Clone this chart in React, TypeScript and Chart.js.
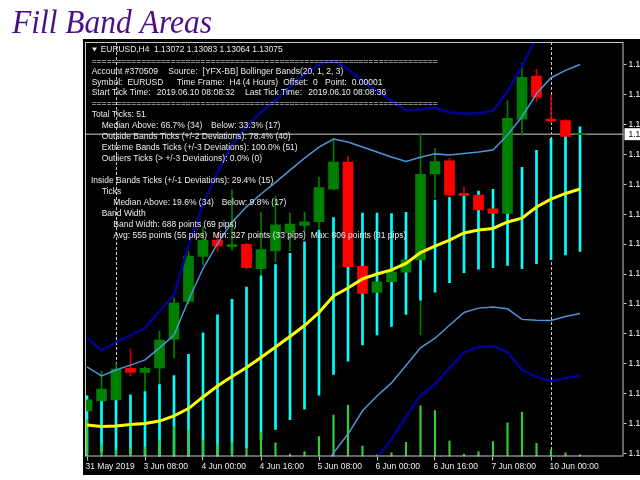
import React, { useEffect, useRef } from "react";
import { Chart, registerables } from "chart.js";

Chart.register(...registerables);

// ---------- data ----------
const titleText = "Fill Band Areas";
const headerText = "EURUSD,H4  1.13072 1.13083 1.13064 1.13075";

const timeLabels = ["31 May 2019", "3 Jun 08:00", "4 Jun 00:00", "4 Jun 16:00", "5 Jun 08:00", "6 Jun 00:00", "6 Jun 16:00", "7 Jun 08:00", "10 Jun 00:00"];
const timeLabelBars = [0, 4, 8, 12, 16, 20, 24, 28, 32];
const separatorBars = [2, 32];
const priceTicks = [1.1347, 1.133, 1.1313, 1.1296, 1.1279, 1.1262, 1.1245, 1.1228, 1.1211, 1.1194, 1.1177, 1.116, 1.1143, 1.1126];

const open = [1.11501, 1.11558, 1.11564, 1.11743, 1.1172, 1.11746, 1.1191, 1.12124, 1.1238, 1.12473, 1.12436, 1.12449, 1.12311, 1.12411, 1.12513, 1.12556, 1.12578, 1.12763, 1.12917, 1.12323, 1.12176, 1.12236, 1.12291, 1.1236, 1.12849, 1.12924, 1.12738, 1.12729, 1.1265, 1.12625, 1.13161, 1.13406, 1.13161, 1.13153, 1.13072];
const high = [1.11581, 1.11728, 1.11774, 1.11854, 1.11751, 1.11956, 1.12144, 1.12411, 1.12547, 1.12513, 1.12758, 1.12456, 1.12632, 1.12723, 1.12627, 1.12632, 1.12831, 1.13053, 1.12951, 1.12331, 1.12252, 1.12308, 1.12377, 1.13074, 1.12995, 1.12938, 1.12776, 1.12741, 1.12682, 1.13264, 1.13478, 1.13444, 1.13298, 1.13158, 1.13083];
const low = [1.11484, 1.11507, 1.11547, 1.117, 1.11558, 1.11649, 1.11802, 1.1211, 1.12331, 1.12405, 1.12416, 1.12308, 1.12263, 1.12348, 1.12411, 1.12519, 1.12541, 1.12758, 1.12274, 1.12149, 1.12155, 1.12217, 1.12269, 1.11933, 1.12712, 1.12653, 1.12672, 1.12638, 1.1254, 1.12492, 1.1307, 1.1326, 1.13141, 1.13056, 1.13064];
const close = [1.11564, 1.11626, 1.1174, 1.1172, 1.11743, 1.11905, 1.12115, 1.12382, 1.12473, 1.12439, 1.12448, 1.12316, 1.12419, 1.12559, 1.12564, 1.12576, 1.12772, 1.12917, 1.12321, 1.12169, 1.12236, 1.12293, 1.1236, 1.12847, 1.12919, 1.12729, 1.12726, 1.12644, 1.12625, 1.13165, 1.13398, 1.13285, 1.1315, 1.13062, 1.13075];
const tickVolume = [8800, 2800, 1600, 2100, 2300, 4000, 7200, 6400, 4000, 2800, 3500, 2100, 5900, 3300, 600, 1200, 4800, 10000, 12400, 2500, 400, 900, 3400, 12200, 11100, 3700, 600, 1200, 3600, 8100, 10700, 3200, 1600, 900, 400];
const bandMiddle = [1.11422, 1.11413, 1.11416, 1.11424, 1.1143, 1.11444, 1.11473, 1.11515, 1.11581, 1.11643, 1.11697, 1.11748, 1.11805, 1.11865, 1.11925, 1.11987, 1.12061, 1.12155, 1.122, 1.12252, 1.1228, 1.12303, 1.1234, 1.12402, 1.12439, 1.12473, 1.12513, 1.1253, 1.12539, 1.12576, 1.12598, 1.12661, 1.12706, 1.12738, 1.12763];
const bandDeviation = [0.00165, 0.00144, 0.00159, 0.00169, 0.00181, 0.00208, 0.0023, 0.00308, 0.00365, 0.00405, 0.00439, 0.00457, 0.00465, 0.00468, 0.00473, 0.00476, 0.0047, 0.00446, 0.00415, 0.00375, 0.00347, 0.00321, 0.0029, 0.00271, 0.00262, 0.00242, 0.00226, 0.00222, 0.00223, 0.00247, 0.00288, 0.00322, 0.00345, 0.0035, 0.00354];

const commentLines: string[][] = [
  ["=".repeat(70)],
  ["Account #370509", "Source:", "[YFX-BB] Bollinger Bands(20, 1, 2, 3)"],
  ["Symbol:", "EURUSD", "Time Frame:", "H4 (4 Hours)", "Offset:", "0", "Point:", "0.00001"],
  ["Start Tick Time:", "2019.06.10 08:08:32", "Last Tick Time:", "2019.06.10 08:08:36"],
  ["=".repeat(70)],
  ["Total Ticks: 51"],
  ["Median Above: 66.7% (34)", "Below: 33.3% (17)"],
  ["Outside Bands Ticks (+/-2 Deviations): 78.4% (40)"],
  ["Extreme Bands Ticks (+/-3 Deviations): 100.0% (51)"],
  ["Outliers Ticks (> +/-3 Deviations): 0.0% (0)"],
  ["Inside Bands Ticks (+/-1 Deviations): 29.4% (15)"],
  ["Ticks"],
  ["Median Above: 19.6% (34)", "Below: 9.8% (17)"],
  ["Band Width"],
  ["Band Width: 688 points (69 pips)"],
  ["Avg: 555 points (55 pips)", "Min: 327 points (33 pips)", "Max: 806 points (81 pips)"],
];

// ---------- layout ----------
const FONT = "'Liberation Sans', Arial, sans-serif";
const commentLayout: { y: number; xs: number[] }[] = [
  { y: 61.5, xs: [91.7] },
  { y: 72, xs: [91.7, 168.3, 201.7] },
  { y: 82.5, xs: [91.7, 123.3, 176.7, 215, 280, 307.3, 325, 351.7] },
  { y: 93, xs: [91.7, 156.7, 245, 308.3] },
  { y: 103.5, xs: [91.7] },
  { y: 115, xs: [91.7] },
  { y: 126, xs: [101.7, 211] },
  { y: 137, xs: [101.7] },
  { y: 148, xs: [101.7] },
  { y: 159, xs: [101.7] },
  { y: 181, xs: [91] },
  { y: 192, xs: [101.7] },
  { y: 203, xs: [113.3, 221.7] },
  { y: 213.5, xs: [101.7] },
  { y: 224.5, xs: [113.3] },
  { y: 235.5, xs: [113.3, 212.7, 310] },
];

export default function App() {
  const ref = useRef<HTMLCanvasElement>(null);

  useEffect(() => {
    document.body.style.margin = "0";
    const canvas = ref.current!;
    const n = close.length;
    const idx = close.map((_, i) => i);
    const bull = idx.map((i) => close[i] >= open[i]);
    const band = (k: number) => idx.map((i) => ({ x: i, y: bandMiddle[i] + k * bandDeviation[i] }));

    const overlay = {
      id: "mt4overlay",
      beforeDraw(chart: any) {
        const c = chart.ctx as CanvasRenderingContext2D;
        c.save();
        c.fillStyle = "#ffffff";
        c.fillRect(0, 0, chart.width, chart.height);
        c.fillStyle = "#000000";
        c.fillRect(83, 39, chart.width - 83, 436);
        c.fillStyle = "#4b0f87";
        c.font = "italic 33px 'Liberation Serif', serif";
        c.textBaseline = "alphabetic";
        c.fillText(titleText, 12, 33, 200);
        c.restore();
      },
      beforeDatasetsDraw(chart: any) {
        const c = chart.ctx as CanvasRenderingContext2D;
        const a = chart.chartArea;
        const sx = chart.scales.x;
        const sy = chart.scales.y;
        c.save();
        c.beginPath();
        c.rect(a.left, a.top, a.right - a.left, a.bottom - a.top);
        c.clip();
        c.strokeStyle = "#c8c8c8";
        c.lineWidth = 1;
        c.setLineDash([3, 2]);
        separatorBars.forEach((b) => {
          const x = Math.round(sx.getPixelForValue(b)) + 0.5;
          c.beginPath();
          c.moveTo(x, a.top);
          c.lineTo(x, a.bottom);
          c.stroke();
        });
        c.setLineDash([]);
        const py = sy.getPixelForValue(close[n - 1]);
        c.strokeStyle = "#8a8a8a";
        c.lineWidth = 1.5;
        c.beginPath();
        c.moveTo(a.left, py);
        c.lineTo(a.right, py);
        c.stroke();
        c.restore();
      },
      afterDraw(chart: any) {
        const c = chart.ctx as CanvasRenderingContext2D;
        const a = chart.chartArea;
        const sy = chart.scales.y;
        c.save();
        c.strokeStyle = "#c8c8c8";
        c.lineWidth = 1;
        c.strokeRect(a.left + 0.5, a.top + 0.5, a.right - a.left - 1, a.bottom - a.top - 1);
        const py = sy.getPixelForValue(close[n - 1]);
        c.fillStyle = "#ffffff";
        c.fillRect(a.right + 1, py - 6, 20, 12);
        c.fillStyle = "#000000";
        c.font = `8.5px ${FONT}`;
        c.textBaseline = "middle";
        c.fillText(close[n - 1].toFixed(5), a.right + 5, py + 0.5);
        c.fillStyle = "#ececec";
        c.beginPath();
        c.moveTo(92, 47.5);
        c.lineTo(97, 47.5);
        c.lineTo(94.5, 51.5);
        c.closePath();
        c.fill();
        c.fillText(headerText, 100.7, 49.5, 182);
        commentLines.forEach((segs, r) => {
          const lay = commentLayout[r];
          let prevEnd = 0;
          segs.forEach((t, k) => {
            if (t.startsWith("=")) {
              c.fillText(t, lay.xs[k], lay.y, 346);
              return;
            }
            const x = Math.max(lay.xs[k], prevEnd + 5);
            c.fillText(t, x, lay.y);
            prevEnd = x + c.measureText(t).width;
          });
        });
        c.restore();
      },
    };

    const chart = new Chart(canvas, {
      type: "bar",
      data: {
        datasets: [
          { type: "line", label: "Middle", data: band(0), borderColor: "#ffff00", borderWidth: 3, pointRadius: 0, order: 1 } as any,
          { type: "line", label: "Upper 2", data: band(2), borderColor: "#4f94d6", borderWidth: 1.5, pointRadius: 0, order: 2 } as any,
          { type: "line", label: "Lower 2", data: band(-2), borderColor: "#4f94d6", borderWidth: 1.5, pointRadius: 0, order: 2 } as any,
          { type: "line", label: "Upper 3", data: band(3), borderColor: "#000096", borderWidth: 2.5, pointRadius: 0, order: 3 } as any,
          { type: "line", label: "Lower 3", data: band(-3), borderColor: "#000096", borderWidth: 2.5, pointRadius: 0, order: 3 } as any,
          {
            type: "bar", label: "Body",
            data: idx.map((i) => ({ x: i, y: [open[i], close[i]] })),
            backgroundColor: idx.map((i) => (bull[i] ? "#008000" : "#ff0000")),
            barThickness: 10, minBarLength: 1.5, grouped: false, order: 4,
          } as any,
          {
            type: "bar", label: "Volume", yAxisID: "yv",
            data: idx.map((i) => ({ x: i, y: tickVolume[i] })),
            backgroundColor: "#32cd32", barThickness: 1.5, grouped: false, order: 5,
          } as any,
          {
            type: "bar", label: "Inside band",
            data: idx.map((i) => ({ x: i, y: [bandMiddle[i] - bandDeviation[i], bandMiddle[i] + bandDeviation[i]] })),
            backgroundColor: "#00ffff", barThickness: 2, grouped: false, order: 6,
          } as any,
          {
            type: "bar", label: "Wick",
            data: idx.map((i) => ({ x: i, y: [low[i], high[i]] })),
            backgroundColor: idx.map((i) => (bull[i] ? "#008000" : "#d00000")),
            barThickness: 1, grouped: false, order: 7,
          } as any,
        ],
      },
      options: {
        responsive: false,
        animation: false,
        events: [],
        layout: { padding: { left: 85, top: 42, right: 0, bottom: 0 }, autoPadding: false },
        plugins: { legend: { display: false }, tooltip: { enabled: false } },
        scales: {
          x: {
            type: "linear", position: "bottom", offset: false,
            min: -2 / 14.5, max: 536.5 / 14.5,
            grid: { display: true, drawOnChartArea: false, drawTicks: true, tickLength: 4, color: "#c8c8c8", offset: false },
            border: { display: false },
            ticks: {
              color: "#ececec", font: { family: FONT, size: 8.5 }, align: "start", autoSkip: false, maxRotation: 0,
              padding: 1, labelOffset: -1.5,
              callback: (v: any) => {
                const k = timeLabelBars.indexOf(Number(v));
                return k >= 0 ? timeLabels[k] : "";
              },
            },
            afterBuildTicks: (s: any) => { s.ticks = timeLabelBars.map((v) => ({ value: v })); },
            afterFit: (s: any) => { s.height = 23.5; s.paddingLeft = 0; s.paddingRight = 0; },
          } as any,
          y: {
            type: "linear", position: "right",
            min: 1.112424, max: 1.135991,
            grid: { display: true, drawOnChartArea: false, drawTicks: true, tickLength: 3, color: "#c8c8c8" },
            border: { display: false },
            ticks: {
              color: "#ffffff", font: { family: FONT, size: 8.5 }, padding: 2, autoSkip: false,
              callback: (v: any) => Number(v).toFixed(5),
            },
            afterBuildTicks: (s: any) => { s.ticks = priceTicks.map((v) => ({ value: v })); },
            afterFit: (s: any) => { s.width = 16.5; s.paddingTop = 0; s.paddingBottom = 0; },
          } as any,
          yv: { type: "linear", display: false, min: 0, max: 100000 } as any,
        },
      },
      plugins: [overlay],
    } as any);

    return () => chart.destroy();
  }, []);

  return (
    <div style={{ position: "fixed", left: 0, top: 0, width: 640, height: 480 }}>
      <canvas ref={ref} width={640} height={480} style={{ display: "block", width: 640, height: 480 }} />
    </div>
  );
}
